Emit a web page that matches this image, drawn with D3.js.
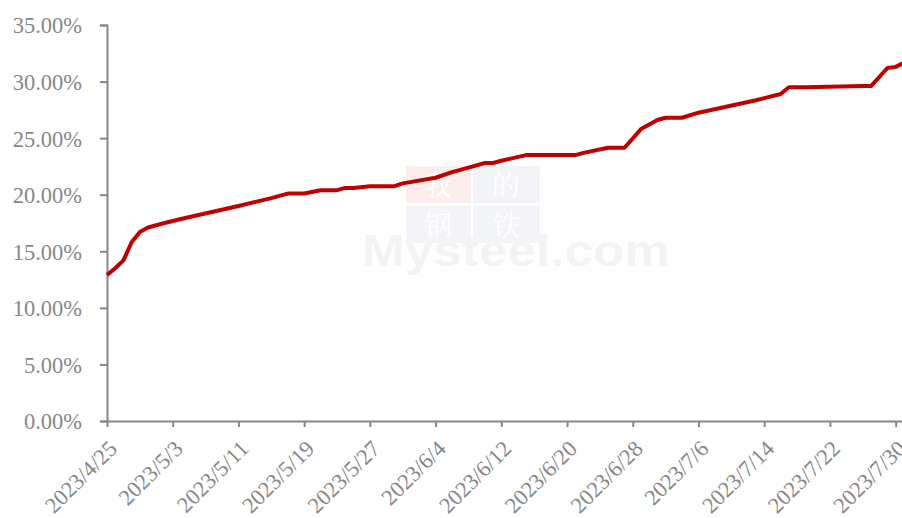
<!DOCTYPE html>
<html>
<head>
<meta charset="utf-8">
<script src="https://cdn.jsdelivr.net/npm/d3@7"></script>
<style>
  body { margin: 0; background: #fff; }
  svg { display: block; }
</style>
</head>
<body>
<div id="chart"></div>
<script>
// data
var dates = ["2023/4/25", "2023/4/26", "2023/4/27", "2023/4/28", "2023/4/29", "2023/4/30",
    "2023/5/2", "2023/5/4", "2023/5/11", "2023/5/15", "2023/5/17", "2023/5/19",
    "2023/5/21", "2023/5/23", "2023/5/24", "2023/5/25", "2023/5/27", "2023/5/30",
    "2023/5/31", "2023/6/4", "2023/6/6", "2023/6/8", "2023/6/10", "2023/6/11",
    "2023/6/12", "2023/6/15", "2023/6/21", "2023/6/22", "2023/6/25", "2023/6/27",
    "2023/6/29", "2023/7/1", "2023/7/2", "2023/7/4", "2023/7/6", "2023/7/13",
    "2023/7/16", "2023/7/17", "2023/7/19", "2023/7/26", "2023/7/27", "2023/7/29",
    "2023/7/30", "2023/7/31"];
var values = [12.9, 13.5, 14.2, 15.8, 16.7, 17.1,
    17.5, 17.85, 19.0, 19.7, 20.1, 20.1,
    20.4, 20.4, 20.6, 20.6, 20.75, 20.75,
    21.0, 21.5, 22.0, 22.4, 22.8, 22.8,
    23.0, 23.5, 23.5, 23.7, 24.15, 24.15,
    25.8, 26.6, 26.8, 26.8, 27.25, 28.35,
    28.9, 29.5, 29.5, 29.6, 29.6, 31.2,
    31.3, 31.65];
var xTickLabels = ["2023/4/25", "2023/5/3", "2023/5/11", "2023/5/19", "2023/5/27", "2023/6/4",
    "2023/6/12", "2023/6/20", "2023/6/28", "2023/7/6", "2023/7/14", "2023/7/22", "2023/7/30"];
var yTicks = [0, 5, 10, 15, 20, 25, 30, 35];

var width = 902,
    height = 518,
    plotLeft = 107,
    plotTop = 25,
    plotBottom = 421,
    gray = "#878787",
    font = "'Liberation Serif', 'Times New Roman', serif";

var parse = d3.timeParse("%Y/%m/%d");
var points = dates.map(function (d, i) {
    return {date: parse(d), value: values[i]};
});

var x = d3.scaleTime()
    .domain([parse("2023/4/25"), parse("2023/7/31")])
    .range([plotLeft, plotLeft + 97 * 8.215]);

var y = d3.scaleLinear()
    .domain([0, 35])
    .range([plotBottom, plotTop]);

var svg = d3.select("#chart")
    .append("svg")
    .attr("width", width)
    .attr("height", height);

// faint watermark
var wm = svg.append("g");
wm.append("rect").attr("x", 406).attr("y", 166).attr("width", 65).attr("height", 37).attr("fill", "#fdeeee");
wm.append("rect").attr("x", 473).attr("y", 166).attr("width", 67).attr("height", 37).attr("fill", "#f3f4f8");
wm.append("rect").attr("x", 406).attr("y", 206).attr("width", 65).attr("height", 37).attr("fill", "#f3f4f8");
wm.append("rect").attr("x", 473).attr("y", 206).attr("width", 67).attr("height", 37).attr("fill", "#f3f4f8");
[["我", 438, 196], ["的", 506, 196], ["钢", 438, 236], ["铁", 506, 236]].forEach(function (c) {
    wm.append("text")
        .attr("x", c[1]).attr("y", c[2])
        .attr("text-anchor", "middle")
        .attr("font-family", "'Noto Serif CJK SC', 'Noto Sans CJK SC', serif")
        .attr("font-size", 28)
        .attr("fill", "#ffffff")
        .text(c[0]);
});
wm.append("text")
    .attr("x", 362).attr("y", 266)
    .attr("textLength", 308)
    .attr("lengthAdjust", "spacingAndGlyphs")
    .attr("font-family", "'Liberation Sans', Arial, sans-serif")
    .attr("font-weight", "bold")
    .attr("font-size", 45)
    .attr("fill", "#f3f3f3")
    .text("Mysteel.com");

// y axis
var yAxis = svg.append("g")
    .attr("transform", "translate(" + plotLeft + ",0)")
    .call(d3.axisLeft(y).tickValues(yTicks).tickSize(7).tickPadding(18)
        .tickFormat(function (d) { return d.toFixed(2) + "%"; }));

// x axis
var xAxis = svg.append("g")
    .attr("transform", "translate(0," + plotBottom + ")")
    .call(d3.axisBottom(x).tickValues(xTickLabels.map(parse)).tickSize(6)
        .tickFormat(d3.timeFormat("%Y/%-m/%-d")));

xAxis.select(".domain").attr("d", "M" + plotLeft + ",0.5H" + width);

[yAxis, xAxis].forEach(function (a) {
    a.select(".domain").attr("stroke", gray).attr("stroke-width", 2);
    a.selectAll(".tick line").attr("stroke", gray).attr("stroke-width", 2);
    a.selectAll("text")
        .attr("fill", gray)
        .attr("font-family", font)
        .attr("font-size", 22.5);
});

yAxis.selectAll("text").attr("dy", "0.35em");

xAxis.selectAll("text")
    .attr("text-anchor", "end")
    .attr("dy", 0)
    .attr("y", 0)
    .attr("transform", "translate(11,29) rotate(-45)");

// line
var line = d3.line()
    .x(function (d) { return x(d.date); })
    .y(function (d) { return y(d.value); });

svg.append("path")
    .datum(points)
    .attr("d", line)
    .attr("fill", "none")
    .attr("stroke", "#c00000")
    .attr("stroke-width", 4)
    .attr("stroke-linejoin", "round");
</script>
</body>
</html>
